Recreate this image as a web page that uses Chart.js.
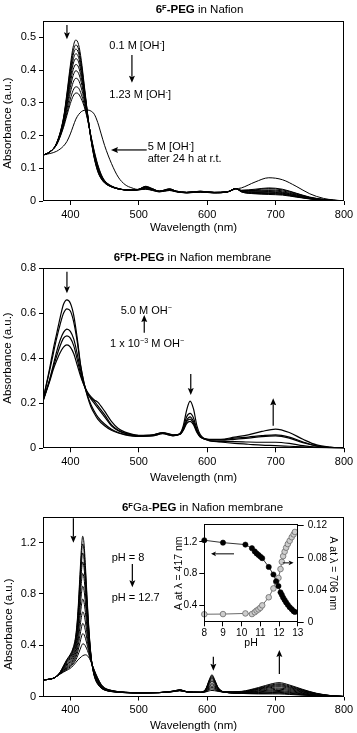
<!DOCTYPE html>
<html><head><meta charset="utf-8">
<script src="https://cdn.jsdelivr.net/npm/chart.js@4"></script>
<style>
body{margin:0;background:#fff;width:357px;height:733px;position:relative;overflow:hidden;font-family:"Liberation Sans",Arial,Helvetica,sans-serif;color:#000}
canvas{position:absolute}
.t{position:absolute;font-size:11px;white-space:nowrap;line-height:1;transform:translateY(-50%)}
.ttl{position:absolute;font-size:11.5px;white-space:nowrap;line-height:1;transform:translate(-50%,-50%)}
.yl{position:absolute;font-size:11.5px;white-space:nowrap;line-height:1;transform:translate(-50%,-50%) rotate(-90deg)}
sup{font-size:0.65em;line-height:0;vertical-align:0.5em}
</style></head>
<body>
<canvas id="c1" width="357" height="240" style="left:0;top:0"></canvas>
<canvas id="c2" width="357" height="245" style="left:0;top:240px"></canvas>
<canvas id="c3" width="357" height="248" style="left:0;top:485px"></canvas>
<canvas id="c4" width="175" height="138" style="left:170px;top:512px"></canvas>

<div class="ttl" style="left:199.5px;top:10px"><b>6<sup>F</sup>-PEG</b> in Nafion</div>
<div class="yl" style="left:8.3px;top:123px">Absorbance (a.u.)</div>
<div class="t" style="left:109.3px;top:45px">0.1 M [OH<sup>-</sup>]</div>
<div class="t" style="left:109.3px;top:94.3px">1.23 M [OH<sup>-</sup>]</div>
<div class="t" style="left:147.7px;top:145.7px">5 M [OH<sup>-</sup>]</div>
<div class="t" style="left:147.7px;top:158.3px">after 24 h at r.t.</div>

<div class="ttl" style="left:192.5px;top:258.3px"><b>6<sup>F</sup>Pt-PEG</b> in Nafion membrane</div>
<div class="yl" style="left:8.3px;top:358px">Absorbance (a.u.)</div>
<div class="t" style="left:120.7px;top:310px">5.0 M OH<sup>−</sup></div>
<div class="t" style="left:110px;top:343.3px">1 x 10<sup>−3</sup> M OH<sup>−</sup></div>

<div class="ttl" style="left:202.5px;top:508.3px"><b>6<sup>F</sup></b>Ga-<b>PEG</b> in Nafion membrane</div>
<div class="yl" style="left:9px;top:624px">Absorbance (a.u.)</div>
<div class="t" style="left:111.7px;top:557.3px">pH = 8</div>
<div class="t" style="left:111.7px;top:597.3px">pH = 12.7</div>

<script>
// ---------- data ----------
const xTickValues = [400, 500, 600, 700, 800];

// Panel 1: 6F-PEG in Nafion
const wl1 = [360,370,380,390,395,400,404,408,412,416,420,425,430,435,440,445,450,460,470,480,490,500,510,520,530,545,555,570,590,610,630,642,650,670,690,710,730,750,770,800];
const p1_a = [.140,.150,.178,.255,.330,.415,.470,.492,.478,.430,.360,.270,.190,.130,.090,.068,.055,.043,.037,.034,.033,.036,.045,.038,.030,.037,.030,.026,.030,.026,.028,.038,.028,.022,.020,.018,.012,.006,.002,0];
const p1_b = [.140,.150,.177,.252,.324,.404,.456,.477,.464,.419,.354,.268,.191,.132,.092,.069,.056,.043,.037,.034,.033,.036,.044,.037,.030,.037,.030,.026,.030,.026,.028,.038,.028,.023,.022,.020,.013,.007,.002,0];
const p1_c = [.140,.150,.177,.250,.318,.395,.445,.464,.452,.410,.348,.267,.192,.134,.094,.070,.056,.044,.037,.034,.033,.036,.043,.037,.030,.036,.030,.026,.029,.026,.028,.038,.029,.024,.023,.021,.014,.007,.003,0];
const p1_d = [.140,.150,.176,.247,.312,.385,.431,.450,.439,.399,.342,.265,.193,.136,.096,.072,.057,.044,.037,.034,.033,.035,.043,.036,.030,.036,.029,.026,.029,.026,.028,.038,.029,.026,.025,.023,.015,.008,.003,0];
const p1_e = [.140,.150,.176,.245,.306,.374,.418,.435,.425,.389,.336,.263,.194,.138,.098,.073,.058,.044,.037,.034,.033,.035,.042,.036,.029,.035,.029,.026,.029,.026,.028,.038,.030,.027,.027,.024,.016,.008,.003,0];
const p1_f = [.140,.150,.175,.241,.299,.361,.401,.417,.409,.376,.328,.261,.195,.140,.100,.074,.059,.044,.037,.034,.033,.035,.041,.035,.029,.035,.029,.026,.029,.026,.028,.038,.030,.028,.029,.026,.018,.009,.003,0];
const p1_g = [.140,.150,.175,.238,.291,.347,.383,.398,.390,.362,.319,.258,.196,.143,.103,.076,.060,.045,.038,.034,.033,.035,.040,.035,.029,.034,.029,.025,.028,.025,.028,.038,.031,.030,.032,.028,.019,.009,.004,0];
const p1_h = [.140,.150,.174,.233,.281,.331,.362,.375,.369,.345,.310,.256,.197,.146,.106,.078,.061,.045,.038,.034,.033,.035,.039,.034,.029,.033,.029,.025,.028,.025,.028,.038,.032,.032,.034,.031,.021,.010,.004,0];
const p1_i = [.140,.150,.173,.229,.270,.312,.338,.349,.345,.326,.298,.252,.199,.149,.109,.080,.062,.046,.038,.034,.033,.034,.037,.033,.028,.033,.028,.025,.027,.025,.028,.038,.032,.034,.038,.034,.023,.011,.005,0];
const p1_j = [.140,.150,.172,.225,.262,.298,.320,.330,.327,.312,.290,.250,.200,.152,.112,.082,.063,.046,.038,.034,.033,.034,.036,.032,.028,.032,.028,.025,.027,.025,.028,.038,.033,.036,.040,.036,.024,.012,.005,0];
const p1_5M = [.141,.145,.152,.168,.182,.205,.228,.250,.264,.273,.277,.278,.275,.265,.240,.205,.170,.115,.073,.050,.040,.035,.037,.034,.030,.033,.030,.027,.028,.027,.029,.037,.040,.058,.071,.065,.045,.022,.008,0];
const p1_yTicks = [0, 0.1, 0.2, 0.3, 0.4, 0.5];

// Panel 2: 6FPt-PEG in Nafion membrane
const wl2 = [360,370,375,380,385,390,395,400,405,410,415,420,425,430,435,440,450,460,470,480,500,520,535,550,560,565,570,575,580,585,590,600,620,640,660,680,700,720,740,760,780,800];
const p2_1e3 = [.215,.36,.44,.51,.58,.64,.66,.645,.59,.49,.37,.29,.23,.185,.155,.13,.10,.08,.068,.06,.053,.055,.065,.055,.065,.10,.17,.21,.175,.10,.06,.037,.028,.022,.018,.014,.012,.009,.006,.003,.001,0];
const p2_b = [.215,.35,.42,.49,.55,.60,.62,.61,.56,.475,.365,.29,.235,.195,.165,.14,.108,.085,.07,.062,.055,.056,.066,.056,.064,.09,.14,.155,.135,.085,.055,.037,.03,.03,.028,.027,.027,.022,.012,.005,.002,0];
const p2_c = [.21,.31,.37,.43,.48,.515,.53,.52,.485,.42,.345,.285,.245,.22,.2,.18,.14,.10,.078,.066,.056,.058,.068,.058,.063,.085,.125,.14,.12,.08,.052,.04,.036,.04,.045,.052,.055,.045,.025,.01,.003,0];
const p2_d = [.21,.305,.36,.41,.455,.49,.50,.49,.455,.395,.33,.28,.245,.225,.21,.19,.15,.105,.08,.068,.057,.059,.069,.059,.062,.082,.118,.13,.112,.075,.05,.04,.038,.045,.05,.056,.06,.05,.028,.011,.004,0];
const p2_5M = [.21,.30,.35,.39,.425,.45,.46,.45,.42,.37,.32,.28,.25,.23,.215,.205,.165,.12,.088,.072,.058,.06,.07,.06,.062,.08,.11,.12,.105,.07,.05,.04,.04,.05,.06,.075,.085,.07,.04,.015,.005,0];
const p2_yTicks = [0, 0.2, 0.4, 0.6, 0.8];

// Panel 3: 6FGa-PEG in Nafion membrane (pH 8 -> 12.7)
const wl3 = [360,370,378,385,390,395,400,404,408,411,414,416,418,420,422,425,428,431,434,437,440,445,450,460,480,500,530,550,560,570,590,598,603,607,611,616,625,650,675,695,705,720,740,760,780,800];
const p3_00 = [.13,.135,.15,.19,.24,.29,.33,.38,.48,.66,.95,1.14,1.25,1.19,1.02,.72,.46,.28,.18,.125,.095,.065,.05,.038,.03,.028,.03,.042,.052,.038,.033,.06,.13,.17,.13,.07,.035,.024,.02,.02,.02,.016,.01,.005,.002,0];
const p3_01 = [.13,.135,.15,.189,.237,.285,.323,.371,.466,.636,.908,1.087,1.19,1.135,.976,.694,.449,.279,.183,.129,.098,.067,.051,.039,.03,.028,.03,.042,.052,.038,.033,.058,.124,.162,.125,.068,.035,.025,.023,.025,.026,.021,.013,.006,.002,0];
const p3_02 = [.13,.135,.15,.188,.233,.278,.315,.361,.45,.608,.86,1.025,1.12,1.069,.923,.664,.437,.277,.186,.133,.102,.069,.052,.039,.03,.028,.03,.041,.051,.038,.033,.057,.118,.153,.118,.066,.035,.026,.027,.031,.032,.026,.016,.008,.003,0];
const p3_03 = [.13,.135,.15,.187,.229,.272,.306,.35,.434,.579,.81,.962,1.05,1.004,.871,.634,.425,.276,.189,.137,.106,.071,.054,.04,.031,.028,.03,.041,.05,.038,.033,.055,.111,.144,.112,.064,.035,.027,.031,.037,.039,.032,.02,.009,.003,0];
const p3_04 = [.13,.135,.15,.185,.224,.264,.296,.336,.413,.543,.748,.882,.96,.92,.804,.595,.409,.274,.192,.142,.111,.074,.056,.041,.031,.029,.03,.041,.05,.037,.033,.053,.103,.132,.104,.061,.035,.029,.036,.045,.047,.039,.024,.011,.004,0];
const p3_05 = [.13,.135,.15,.184,.219,.254,.284,.321,.39,.503,.678,.793,.86,.828,.729,.552,.391,.272,.197,.148,.116,.078,.058,.042,.031,.029,.03,.04,.049,.037,.033,.05,.094,.119,.094,.057,.035,.031,.041,.053,.057,.047,.029,.013,.005,0];
const p3_06 = [.13,.135,.15,.182,.214,.245,.272,.306,.367,.463,.608,.703,.76,.734,.654,.509,.373,.269,.201,.154,.121,.081,.059,.043,.032,.029,.031,.04,.048,.037,.032,.047,.085,.105,.085,.054,.035,.032,.046,.062,.066,.055,.034,.016,.005,0];
const p3_07 = [.13,.135,.15,.181,.208,.236,.26,.291,.344,.423,.539,.615,.66,.641,.58,.466,.356,.267,.205,.16,.127,.084,.061,.044,.032,.029,.031,.039,.048,.037,.032,.045,.076,.092,.076,.051,.035,.034,.052,.071,.076,.063,.038,.018,.006,0];
const p3_08 = [.13,.135,.15,.179,.204,.228,.25,.278,.323,.386,.476,.534,.57,.557,.513,.427,.34,.265,.209,.165,.132,.087,.063,.045,.032,.03,.031,.039,.047,.036,.032,.042,.067,.08,.068,.048,.035,.036,.057,.078,.084,.07,.043,.02,.006,0];
const p3_09 = [.13,.135,.15,.178,.199,.221,.24,.266,.305,.354,.42,.464,.49,.483,.454,.392,.325,.264,.213,.17,.136,.089,.065,.046,.033,.03,.031,.039,.046,.036,.032,.04,.06,.07,.061,.046,.035,.037,.061,.085,.092,.076,.047,.021,.007,0];
const p3_10 = [.13,.135,.15,.176,.195,.213,.231,.254,.286,.322,.364,.392,.41,.409,.394,.358,.311,.262,.216,.175,.14,.092,.066,.047,.033,.03,.031,.038,.046,.036,.032,.038,.053,.059,.053,.043,.035,.038,.065,.092,.099,.083,.051,.023,.007,0];
const p3_11 = [.13,.135,.15,.175,.19,.205,.22,.24,.265,.285,.30,.31,.318,.323,.325,.318,.295,.26,.22,.18,.145,.095,.068,.048,.033,.03,.031,.038,.045,.036,.032,.036,.044,.047,.045,.04,.035,.04,.07,.10,.108,.09,.055,.025,.008,0];
const p3_yTicks = [0, 0.4, 0.8, 1.2];

// Inset: A at 417 nm and A at 706 nm vs pH
const insetPH = [8.0,9.0,10.2,10.55,10.7,10.8,10.9,11.0,11.1,11.45,11.7,11.85,11.97,12.08,12.15,12.22,12.3,12.38,12.47,12.57,12.68,12.78,12.85];
const insetA417 = [1.22,1.19,1.165,1.12,1.08,1.055,1.035,1.015,0.995,0.885,0.79,0.705,0.645,0.567,0.535,0.50,0.47,0.44,0.41,0.38,0.355,0.33,0.32];
const insetA706 = [0.010,0.0102,0.011,0.0102,0.0125,0.0145,0.016,0.018,0.021,0.031,0.042,0.050,0.055,0.066,0.075,0.082,0.0875,0.0925,0.097,0.101,0.1055,0.109,0.112];
const insetPHTicks = [8, 9, 10, 11, 12, 13];
const insetLeftTicks = [0.4, 0.8, 1.2];
const insetRightTicks = [0, 0.04, 0.08, 0.12];

// ---------- drawing ----------
const FONT = '"Liberation Sans", Arial, Helvetica, sans-serif';
Chart.defaults.font.family = FONT;
Chart.defaults.color = '#000';

const framePlugin = {
  id: 'frame',
  afterDraw(chart) {
    const {ctx, chartArea: a} = chart;
    ctx.save();
    ctx.strokeStyle = '#000';
    ctx.lineWidth = 1;
    const l = Math.round(a.left) + 0.5, t = Math.round(a.top) + 0.5;
    const r = Math.round(a.right) - 0.5, b = Math.round(a.bottom) - 0.5;
    ctx.strokeRect(l, t, r - l, b - t);
    ctx.restore();
  }
};

function drawArrow(ctx, x1, y1, x2, y2, hl, hw, lw) {
  const ang = Math.atan2(y2 - y1, x2 - x1);
  const c = Math.cos(ang), s = Math.sin(ang);
  const bx = x2 - hl * c, by = y2 - hl * s;
  ctx.beginPath(); ctx.moveTo(x1, y1); ctx.lineTo(bx + c, by + s);
  ctx.lineWidth = lw; ctx.strokeStyle = '#000'; ctx.stroke();
  ctx.beginPath(); ctx.moveTo(x2, y2);
  ctx.lineTo(bx + hw * s, by - hw * c);
  ctx.lineTo(bx + 1.2 * c, by + 1.2 * s);
  ctx.lineTo(bx - hw * s, by + hw * c);
  ctx.closePath(); ctx.fillStyle = '#000'; ctx.fill();
}

function arrowPlugin(list, yId, hl, hw, lw) {
  return {
    id: 'arrows',
    afterDatasetsDraw(chart) {
      const ctx = chart.ctx, xs = chart.scales.x, ys = chart.scales[yId || 'y'];
      ctx.save();
      list.forEach(a => {
        if (a.x !== undefined) {
          const px = xs.getPixelForValue(a.x);
          drawArrow(ctx, px, ys.getPixelForValue(a.y1), px, ys.getPixelForValue(a.y2), hl, hw, lw);
        } else {
          const py = ys.getPixelForValue(a.y);
          drawArrow(ctx, xs.getPixelForValue(a.x1), py, xs.getPixelForValue(a.x2), py, hl, hw, lw);
        }
      });
      ctx.restore();
    }
  };
}

function spectrumChart(id, wl, series, cfg) {
  const datasets = series.map(s => ({
    data: wl.map((x, i) => ({x: x, y: s[i]})),
    borderColor: '#000', borderWidth: cfg.lw, pointRadius: 0, fill: false,
    cubicInterpolationMode: 'monotone'
  }));
  return new Chart(document.getElementById(id), {
    type: 'line',
    data: {datasets},
    options: {
      responsive: false, animation: false, devicePixelRatio: 1,
      layout: {padding: {top: cfg.top, right: 13, left: 0, bottom: 0}},
      plugins: {legend: {display: false}, tooltip: {enabled: false}},
      scales: {
        x: {
          type: 'linear', min: 360, max: 800,
          afterBuildTicks: s => { s.ticks = xTickValues.map(v => ({value: v})); },
          afterFit: s => { s.height = cfg.xh; },
          grid: {drawOnChartArea: false, drawTicks: true, tickLength: 4, color: '#000'},
          border: {display: false},
          ticks: {font: {size: 11}, color: '#000', padding: 3, maxRotation: 0, autoSkip: false},
          title: {display: true, text: 'Wavelength (nm)', font: {size: 11.5}, color: '#000', padding: {top: 0, bottom: cfg.tpb}}
        },
        y: {
          type: 'linear', min: 0, max: cfg.ymax,
          afterBuildTicks: s => { s.ticks = cfg.yt.map(v => ({value: v})); },
          afterFit: s => { s.width = 43; },
          grid: {drawOnChartArea: false, drawTicks: true, tickLength: 4, color: '#000'},
          border: {display: false},
          ticks: {font: {size: 11}, color: '#000', padding: 3, autoSkip: false,
                  callback: v => v === 0 ? '0' : v.toFixed(1)}
        }
      }
    },
    plugins: [framePlugin, arrowPlugin(cfg.arrows, 'y', 7, 3, 1.2)]
  });
}

spectrumChart('c1', wl1, [p1_a, p1_b, p1_c, p1_d, p1_e, p1_f, p1_g, p1_h, p1_i, p1_j, p1_5M], {
  top: 21, xh: 39, tpb: 5, ymax: 0.55, yt: p1_yTicks, lw: 1,
  arrows: [{x: 395, y1: 0.538, y2: 0.494}, {x: 490, y1: 0.446, y2: 0.361}, {y: 0.156, x1: 511.6, x2: 459.4}]
});

spectrumChart('c2', wl2, [p2_1e3, p2_b, p2_c, p2_d, p2_5M], {
  top: 28.3, xh: 36.7, tpb: 0, ymax: 0.8, yt: p2_yTicks, lw: 1.2,
  arrows: [{x: 395, y1: 0.785, y2: 0.689}, {x: 508, y1: 0.514, y2: 0.592}, {x: 576, y1: 0.33, y2: 0.237}, {x: 696.5, y1: 0.10, y2: 0.222}]
});

spectrumChart('c3', wl3, [p3_00, p3_01, p3_02, p3_03, p3_04, p3_05, p3_06, p3_07, p3_08, p3_09, p3_10, p3_11], {
  top: 32, xh: 36.5, tpb: 0, ymax: 1.4, yt: p3_yTicks, lw: 1,
  arrows: [{x: 404.4, y1: 1.39, y2: 1.2}, {x: 490.6, y1: 1.033, y2: 0.852}, {x: 609, y1: 0.31, y2: 0.2}, {x: 705.5, y1: 0.175, y2: 0.363}]
});

// inset
new Chart(document.getElementById('c4'), {
  type: 'line',
  data: {datasets: [
    {data: insetPH.map((x, i) => ({x: x, y: insetA417[i]})), yAxisID: 'y',
     borderColor: '#000', borderWidth: 0.8, pointRadius: 2.6, pointBackgroundColor: '#000',
     pointBorderColor: '#000', pointBorderWidth: 0.6, clip: false},
    {data: insetPH.map((x, i) => ({x: x, y: insetA706[i]})), yAxisID: 'y2',
     borderColor: '#444', borderWidth: 0.8, pointRadius: 2.8, pointBackgroundColor: '#cdcdcd',
     pointBorderColor: '#6a6a6a', pointBorderWidth: 0.8, clip: false}
  ]},
  options: {
    responsive: false, animation: false, devicePixelRatio: 1,
    layout: {padding: {top: 12.3, left: 0, right: 0, bottom: 0}},
    plugins: {legend: {display: false}, tooltip: {enabled: false}},
    scales: {
      x: {
        type: 'linear', min: 8, max: 13,
        afterBuildTicks: s => { s.ticks = insetPHTicks.map(v => ({value: v})); },
        afterFit: s => { s.height = 27.7; },
        grid: {drawOnChartArea: false, drawTicks: true, tickLength: 4, color: '#000'},
        border: {display: false},
        ticks: {font: {size: 10}, color: '#000', padding: 1, maxRotation: 0, autoSkip: false},
        title: {display: true, text: 'pH', font: {size: 10.5}, color: '#000', padding: {top: 0, bottom: 0.7}}
      },
      y: {
        type: 'linear', position: 'left', min: 0.19, max: 1.42,
        afterBuildTicks: s => { s.ticks = insetLeftTicks.map(v => ({value: v})); },
        afterFit: s => { s.width = 34.3; },
        grid: {drawOnChartArea: false, drawTicks: true, tickLength: 5, color: '#000'},
        border: {display: false},
        ticks: {font: {size: 10}, color: '#000', padding: 2, autoSkip: false, callback: v => v.toFixed(1)},
        title: {display: true, text: 'A at λ = 417 nm', font: {size: 10.5}, color: '#000', padding: {top: 2.7, bottom: 0}}
      },
      y2: {
        type: 'linear', position: 'right', min: 0, max: 0.1215,
        afterBuildTicks: s => { s.ticks = insetRightTicks.map(v => ({value: v})); },
        afterFit: s => { s.width = 47.3; },
        grid: {drawOnChartArea: false, drawTicks: true, tickLength: 6, color: '#000'},
        border: {display: false},
        ticks: {font: {size: 10}, color: '#000', padding: 4, autoSkip: false, callback: v => v === 0 ? '0' : v.toFixed(2)},
        title: {display: true, text: 'A at λ = 706 nm', font: {size: 10.5}, color: '#000', padding: {top: 5.7, bottom: 0}}
      }
    }
  },
  plugins: [framePlugin, arrowPlugin([{y: 1.049, x1: 9.59, x2: 8.36}, {y: 0.936, x1: 12.2, x2: 12.78}], 'y', 5, 2.4, 1)]
});
</script>
</body></html>
